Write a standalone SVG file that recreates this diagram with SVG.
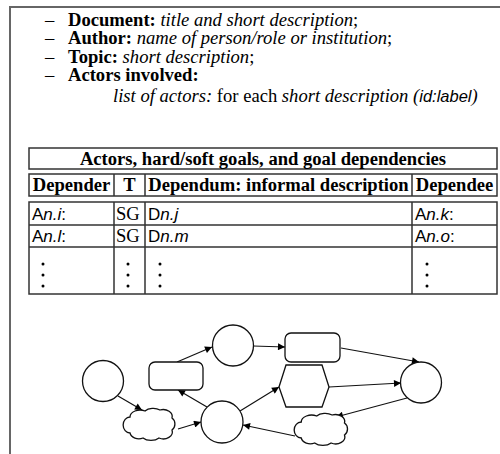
<svg xmlns="http://www.w3.org/2000/svg" width="500" height="454" viewBox="0 0 500 454">
<style>
.frame{stroke:#666;stroke-width:2;fill:none}
.tl{stroke:#333;stroke-width:1.5;fill:none}
.t{font-family:"Liberation Serif",serif;font-size:18.6px;fill:#000}
.b{font-weight:bold}
.i{font-style:italic}
.s{font-family:"Liberation Sans",sans-serif;font-size:17px;fill:#000}
.shape{fill:#fff;stroke:#111;stroke-width:1.3}
.edge{stroke:#111;stroke-width:1.2;fill:none;marker-end:url(#ah)}
.dot{fill:#000}
</style>
<defs>
<marker id="ah" viewBox="0 0 10 10" refX="10" refY="5" markerWidth="9" markerHeight="7" markerUnits="userSpaceOnUse" orient="auto">
<path d="M0,0 L10,5 L0,10 Z" fill="#000"/>
</marker>
<path id="cloud" d="M8,11 a10,7 0 0 1 15,-6 a10,6 0 0 1 15,-1 a9,7 0 0 1 12,8 a6,7 0 0 1 0,12 a9,7 0 0 1 -13,8 a10,6 0 0 1 -16,0 a9,7 0 0 1 -13,-5 a6,7 0 0 1 0,-16 Z"/>
</defs>
<rect width="500" height="454" fill="#fff"/>
<g id="frame">
<path class="frame" d="M10,454 V7 H500"/>
</g>
<g id="header-text">
<g class="t">
<text x="45" y="25.5">–</text><text x="68" y="25.5"><tspan class="b">Document:</tspan> <tspan class="i">title and short description</tspan>;</text>
<text x="45" y="44">–</text><text x="68" y="44"><tspan class="b">Author:</tspan> <tspan class="i">name of person/role or institution</tspan>;</text>
<text x="45" y="62.5">–</text><text x="68" y="62.5"><tspan class="b">Topic:</tspan> <tspan class="i">short description</tspan>;</text>
<text x="45" y="81">–</text><text x="68" y="81"><tspan class="b">Actors involved:</tspan></text>
<text x="113" y="102"><tspan class="i">list of actors:</tspan> for each <tspan class="i">short description (</tspan><tspan class="i" font-family="Liberation Sans, sans-serif" font-size="16.5">id:label</tspan><tspan class="i">)</tspan></text>
</g>
</g>
<g id="table">
<rect class="tl" x="29" y="148" width="468" height="21"/>
<rect class="tl" x="29" y="174" width="468" height="22"/>
<rect class="tl" x="29" y="202" width="468" height="92"/>
<path class="tl" d="M29,225 H497 M29,247 H497 M114,174 V196 M145,174 V196 M412,174 V196 M114,202 V294 M145,202 V294 M412,202 V294"/>
<text class="t b" x="263" y="165" text-anchor="middle">Actors, hard/soft goals, and goal dependencies</text>
<text class="t b" x="71.5" y="191" text-anchor="middle">Depender</text>
<text class="t b" x="129.5" y="191" text-anchor="middle">T</text>
<text class="t b" x="278.5" y="191" text-anchor="middle">Dependum: informal description</text>
<text class="t b" x="454.5" y="191" text-anchor="middle">Dependee</text>
<text class="s" x="32" y="220">A<tspan class="i">n.i</tspan>:</text>
<text class="t" x="116" y="220">SG</text>
<text class="s" x="148" y="220">D<tspan class="i">n.j</tspan></text>
<text class="s" x="415" y="220">A<tspan class="i">n.k</tspan>:</text>
<text class="s" x="32" y="242">A<tspan class="i">n.l</tspan>:</text>
<text class="t" x="116" y="242">SG</text>
<text class="s" x="148" y="242">D<tspan class="i">n.m</tspan></text>
<text class="s" x="415" y="242">A<tspan class="i">n.o</tspan>:</text>
<g class="dot">
<circle cx="43" cy="264" r="1.5"/><circle cx="43" cy="275" r="1.5"/><circle cx="43" cy="286" r="1.5"/>
<circle cx="128" cy="264" r="1.5"/><circle cx="128" cy="275" r="1.5"/><circle cx="128" cy="286" r="1.5"/>
<circle cx="160" cy="264" r="1.5"/><circle cx="160" cy="275" r="1.5"/><circle cx="160" cy="286" r="1.5"/>
<circle cx="427" cy="264" r="1.5"/><circle cx="427" cy="275" r="1.5"/><circle cx="427" cy="286" r="1.5"/>
</g>
</g>
<g id="connectors">
<line class="edge" x1="118" y1="396" x2="142" y2="410"/>
<line class="edge" x1="178" y1="429" x2="201" y2="422"/>
<line class="edge" x1="207" y1="407" x2="178" y2="390"/>
<line class="edge" x1="177" y1="362" x2="212" y2="347"/>
<line class="edge" x1="253" y1="346" x2="285" y2="347"/>
<line class="edge" x1="341" y1="348" x2="419" y2="362"/>
<line class="edge" x1="240" y1="411" x2="279" y2="387"/>
<line class="edge" x1="329" y1="387" x2="401" y2="383"/>
<line class="edge" x1="407" y1="398" x2="336" y2="417"/>
<line class="edge" x1="295" y1="436" x2="243" y2="425"/>
</g>
<g id="actor-a"><circle class="shape" cx="103" cy="381" r="20.5"/></g>
<g id="actor-b"><circle class="shape" cx="233" cy="345.5" r="20.5"/></g>
<g id="actor-c"><circle class="shape" cx="222" cy="422" r="21"/></g>
<g id="actor-d"><circle class="shape" cx="421" cy="382.5" r="20.5"/></g>
<g id="goal-1"><rect class="shape" x="149" y="362" width="54" height="28" rx="6"/></g>
<g id="goal-2"><rect class="shape" x="285" y="333" width="55" height="29" rx="6"/></g>
<g id="task-1"><polygon class="shape" points="279,387 286,365 322,365 329,387 322,407 286,407"/></g>
<g id="softgoal-1"><use href="#cloud" class="shape" transform="translate(122,406)"/></g>
<g id="softgoal-2"><use href="#cloud" class="shape" transform="translate(293,411) scale(1.03,1)"/></g>
</svg>
